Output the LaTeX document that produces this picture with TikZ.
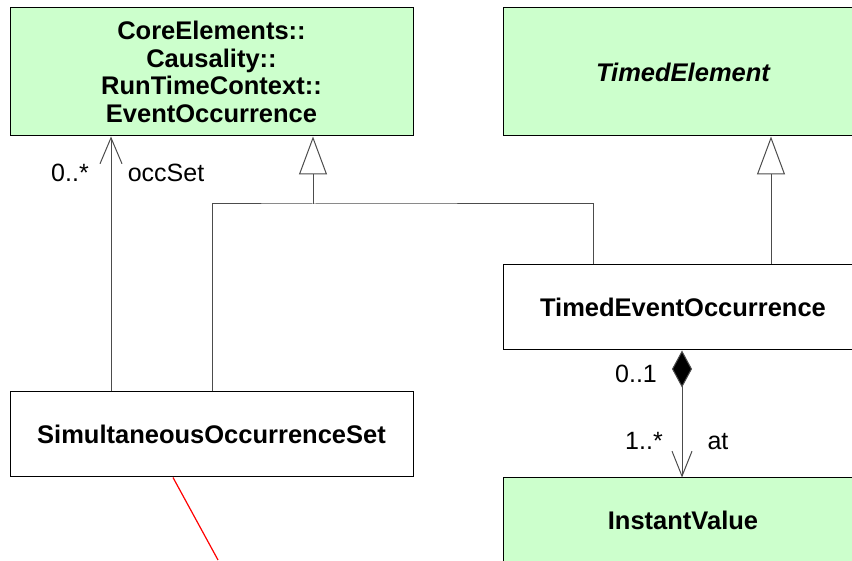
\documentclass[tikz,border=0pt]{standalone}
\usepackage{fontspec}
\setmainfont{Liberation Sans}
\usetikzlibrary{arrows.meta}

\definecolor{classgreen}{RGB}{204,255,204}
\tikzset{
	classbox/.style={draw, line width=1pt, inner sep=0pt, align=center,
		font=\fontsize{25.5}{27.5}\selectfont\bfseries},
	wide/.style={minimum width=403pt, minimum height=#1},
	narrow/.style={minimum width=360pt, minimum height=#1},
	conn/.style={line width=1pt, black!70},
	assoc/.style={conn, -{Straight Barb[length=26pt,width=22pt]}},
	gen/.style={conn, -{Triangle[open,length=38pt,width=28pt,fill=white]}},
	comp/.style={conn, {Diamond[length=37pt,width=20pt,fill=black]}-{Straight Barb[length=25pt,width=20pt]}},
	mult/.style={anchor=base, font=\fontsize{25}{27}\selectfont}
}

\begin{document}
\begin{tikzpicture}[x=1pt, y=1pt]
	\useasboundingbox (0,0) rectangle (852,560);

	\node[classbox, wide=128pt, fill=classgreen] (eo) at (211.5, 488)
		{CoreElements::\\Causality::\\RunTimeContext::\\EventOccurrence};
	\node[classbox, narrow=128pt, fill=classgreen] (te) at (683, 488)
		{\itshape TimedElement};
	\node[classbox, narrow=85pt, fill=white] (teo) at (683, 252.5)
		{TimedEventOccurrence};
	\node[classbox, wide=85pt, fill=white] (sos) at (211.5, 125.5)
		{SimultaneousOccurrenceSet};
	\node[classbox, narrow=85pt, fill=classgreen] (iv) at (683, 39.5)
		{InstantValue};

	% association occSet
	\draw[assoc] ([xshift=-100.5pt]sos.north) -- ([xshift=-100.5pt]eo.south);
	\node[mult] (occmult) at (70, 378) {0..*};
	\node[mult] (occname) at (166, 378) {occSet};

	% generalizations
	\coordinate (genjoin) at (313, 356);
	\draw[gen] (genjoin) -- ([xshift=101.5pt]eo.south);
	\draw[conn] ([xshift=0.5pt]sos.north) |- (genjoin) -| ([xshift=-90pt]teo.north);
	\draw[gen] ([xshift=88pt]teo.north) -- ([xshift=88pt]te.south);

	% composition at
	\draw[comp] ([xshift=-1pt]teo.south) -- ([xshift=-1pt]iv.north);
	\node[mult] (compsrc) at (636, 177) {0..1};
	\node[mult] (comptgt) at (644, 110) {1..*};
	\node[mult] (compname) at (718, 110) {at};

	% red link leaving the picture
	\coordinate (redend) at (218, 0);
	\draw[red, line width=1.2pt] ([xshift=-38.5pt]sos.south) -- (redend);
\end{tikzpicture}
\end{document}
